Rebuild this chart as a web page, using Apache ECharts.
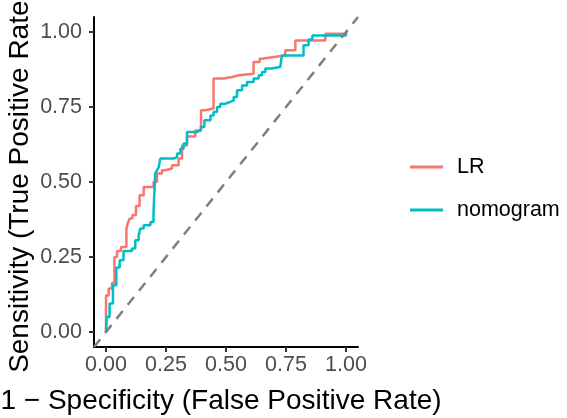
<!DOCTYPE html>
<html lang="en">

<head>
    <meta charset="UTF-8">
    <title>ROC</title>
    <style>
        * {
            margin: 0;
            padding: 0;
        }
    </style>
    <script src="https://cdn.jsdelivr.net/npm/echarts@6/dist/echarts.min.js"></script>
</head>

<body>
    <div id="chart" style="width: 567px;height: 418px;"></div>
    <script>
        // ROC step points: [1 - specificity, sensitivity]
        var lrPoints = [
            [0, 0], [0, 0.122], [0.011, 0.145], [0.025, 0.163], [0.035, 0.25], [0.046, 0.27],
            [0.0625, 0.283], [0.085, 0.345], [0.09, 0.361], [0.098, 0.378], [0.11, 0.39],
            [0.125, 0.42], [0.14, 0.456], [0.157, 0.483], [0.198, 0.5], [0.2125, 0.528],
            [0.233, 0.539], [0.247, 0.545], [0.275, 0.556], [0.3025, 0.578], [0.317, 0.622],
            [0.3375, 0.652], [0.372, 0.672], [0.396, 0.739], [0.414, 0.745], [0.448, 0.845],
            [0.49, 0.85], [0.525, 0.856], [0.553, 0.861], [0.615, 0.9], [0.64, 0.911],
            [0.65, 0.917], [0.70, 0.922], [0.747, 0.939], [0.789, 0.972], [0.914, 0.994], [1, 1]
        ]
        var nomoPoints = [
            [0, 0], [0.003, 0.05], [0.015, 0.095], [0.029, 0.156], [0.043, 0.215], [0.057, 0.239],
            [0.073, 0.27], [0.108, 0.278], [0.122, 0.306], [0.136, 0.322], [0.143, 0.345],
            [0.157, 0.356], [0.185, 0.367], [0.198, 0.4], [0.205, 0.528], [0.2125, 0.539],
            [0.22, 0.55], [0.226, 0.578], [0.282, 0.583], [0.296, 0.595], [0.31, 0.611],
            [0.323, 0.628], [0.3375, 0.667], [0.379, 0.672], [0.395, 0.683], [0.41, 0.706],
            [0.435, 0.722], [0.448, 0.733], [0.4625, 0.75], [0.476, 0.761], [0.497, 0.767],
            [0.518, 0.772], [0.532, 0.783], [0.546, 0.806], [0.567, 0.822], [0.5875, 0.833],
            [0.615, 0.845], [0.636, 0.856], [0.65, 0.867], [0.664, 0.878], [0.69, 0.883],
            [0.726, 0.889], [0.733, 0.922], [0.823, 0.956], [0.844, 0.975], [0.86, 0.988], [1, 1]
        ]
        var diagonal = [[-0.05, -0.05], [1.05, 1.05]]
        var tickValues = [0, 0.25, 0.5, 0.75, 1]
        var seriesNames = ['LR', 'nomogram']

        var font = 'Liberation Sans, Arial, sans-serif'
        var chart = echarts.init(document.getElementById('chart'))

        var axisCommon = {
            type: 'value',
            min: -0.05,
            max: 1.05,
            nameLocation: 'middle',
            nameTextStyle: { color: '#000', fontSize: 28, fontFamily: font },
            axisLine: { show: true, onZero: false, lineStyle: { color: '#000', width: 2 } },
            axisTick: { show: true, customValues: tickValues, length: 5, lineStyle: { color: '#333', width: 2 } },
            axisLabel: {
                customValues: tickValues,
                color: '#4D4D4D',
                fontSize: 21.5,
                fontFamily: font,
                formatter: v => v.toFixed(2)
            },
            splitLine: { show: false }
        }

        var option = {
            animation: false,
            grid: { left: 94, right: 209, top: 17, bottom: 71, outerBoundsMode: 'none', containLabel: false },
            xAxis: Object.assign({}, axisCommon, {
                name: '1 \u2212 Specificity (False Positive Rate)',
                nameGap: 40,
                nameTextStyle: Object.assign({}, axisCommon.nameTextStyle, { padding: [0, 10, 0, 0] }),
                axisLabel: Object.assign({}, axisCommon.axisLabel, { margin: 7 })
            }),
            yAxis: Object.assign({}, axisCommon, {
                name: 'Sensitivity (True Positive Rate)',
                nameGap: 60,
                axisLabel: Object.assign({}, axisCommon.axisLabel, { margin: 12 })
            }),
            legend: {
                orient: 'vertical',
                left: 405,
                top: 151,
                itemWidth: 33,
                itemHeight: 3,
                itemGap: 21,
                icon: 'rect',
                data: seriesNames,
                textStyle: { color: '#000', fontSize: 21.5, fontFamily: font, lineHeight: 22, padding: [0, 0, 0, 9] }
            },
            series: [{
                name: seriesNames[0],
                type: 'line',
                step: 'end',
                symbol: 'none',
                data: lrPoints,
                color: '#F8766D',
                lineStyle: { width: 2.5 }
            }, {
                name: seriesNames[1],
                type: 'line',
                step: 'end',
                symbol: 'none',
                data: nomoPoints,
                color: '#00BFC4',
                lineStyle: { width: 2.5 }
            }, {
                name: 'diagonal',
                type: 'line',
                symbol: 'none',
                data: diagonal,
                color: '#7F7F7F',
                lineStyle: { width: 2.5, type: [10, 8] }
            }]
        }
        chart.setOption(option)
    </script>
</body>

</html>
